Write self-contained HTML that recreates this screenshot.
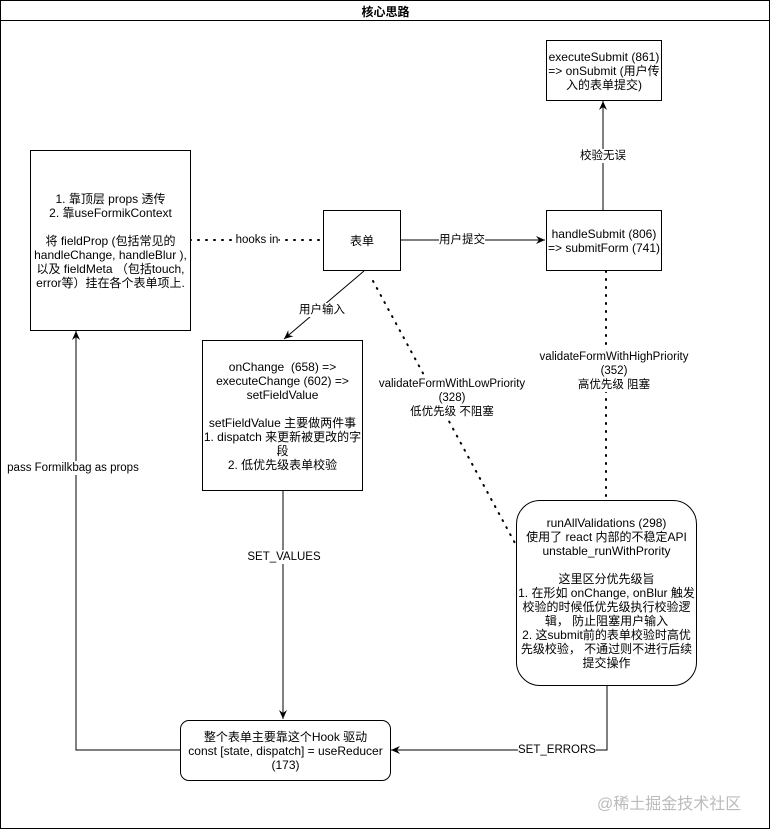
<!DOCTYPE html>
<html><head><meta charset="utf-8"><style>
body{margin:0;width:771px;height:831px;background:#fff;position:relative;overflow:hidden;font-family:"Liberation Sans","Noto Sans CJK SC",sans-serif;font-size:12px;color:#000}
.b{position:absolute;border:1px solid #000;background:#fff;display:flex;align-items:center;justify-content:center;text-align:center;line-height:14px;box-sizing:border-box}
.l{position:absolute;background:#fff;text-align:center;line-height:14px;white-space:nowrap;transform:translate(-50%,-50%);font-size:11.5px}
</style></head><body>
<svg width="771" height="831" style="position:absolute;left:0;top:0">
<defs><marker id="a" markerWidth="10" markerHeight="10" refX="9" refY="5" orient="auto" markerUnits="userSpaceOnUse"><path d="M0,1 L9,5 L0,9 L3,5 Z" fill="#000"/></marker></defs>
<rect x="0.5" y="0.5" width="769" height="828" fill="none" stroke="#000"/>
<line x1="0" y1="20.5" x2="770" y2="20.5" stroke="#000"/>
<g stroke="#000" fill="none" stroke-width="1">
<line x1="190" y1="240" x2="323" y2="240" stroke-dasharray="1,7" stroke-width="2" stroke-linecap="round"/>
<line x1="400" y1="240" x2="545" y2="240" marker-end="url(#a)"/>
<line x1="603" y1="210" x2="603" y2="101" marker-end="url(#a)"/>
<line x1="364" y1="271" x2="284" y2="339" marker-end="url(#a)"/>
<line x1="373" y1="281" x2="516" y2="545" stroke-dasharray="1,7" stroke-width="2" stroke-linecap="round"/>
<line x1="606" y1="271" x2="606" y2="500" stroke-dasharray="1,7" stroke-width="2" stroke-linecap="round"/>
<line x1="283" y1="490" x2="283" y2="719" marker-end="url(#a)"/>
<polyline points="607,685 607,750 391,750" marker-end="url(#a)"/>
<polyline points="180,750 76,750 76,331" marker-end="url(#a)"/>
</g></svg>
<div style="position:absolute;left:0;top:3px;width:771px;text-align:center;font-weight:bold;font-size:12px">核心思路</div>
<div class="b" style="left:30px;top:150px;width:161px;height:181px">1. 靠顶层 props 透传<br>2. 靠useFormikContext<br><br>将 fieldProp (包括常见的<br>handleChange, handleBlur ),<br>以及 fieldMeta （包括touch,<br>error等）挂在各个表单项上.</div>
<div class="b" style="left:323px;top:210px;width:78px;height:61px">表单</div>
<div class="b" style="left:546px;top:210px;width:116px;height:61px">handleSubmit (806)<br>=&gt; submitForm (741)</div>
<div class="b" style="left:546px;top:40px;width:116px;height:61px">executeSubmit (861)<br>=&gt; onSubmit (用户传入的表单提交)</div>
<div class="b" style="left:202px;top:340px;width:161px;height:151px">onChange&nbsp; (658) =&gt;<br>executeChange (602) =&gt;<br>setFieldValue<br><br>setFieldValue 主要做两件事<br>1. dispatch 来更新被更改的字段<br>2. 低优先级表单校验</div>
<div class="b" style="left:516px;top:500px;width:181px;height:186px;border-radius:24px;white-space:nowrap">runAllValidations (298)<br>使用了 react 内部的不稳定API<br>unstable_runWithPrority<br><br>这里区分优先级旨<br>1. 在形如 onChange, onBlur 触发<br>校验的时候低优先级执行校验逻<br>辑， 防止阻塞用户输入<br>2. 这submit前的表单校验时高优<br>先级校验， 不通过则不进行后续<br>提交操作</div>
<div class="b" style="left:180px;top:720px;width:211px;height:61px;border-radius:9px">整个表单主要靠这个Hook 驱动<br>const [state, dispatch] = useReducer<br>(173)</div>
<div class="l" style="left:257px;top:240px">hooks in</div>
<div class="l" style="left:462px;top:240px">用户提交</div>
<div class="l" style="left:603px;top:156px">校验无误</div>
<div class="l" style="left:322px;top:310px">用户输入</div>
<div class="l" style="left:452px;top:398px">validateFormWithLowPriority<br>(328)<br>低优先级 不阻塞</div>
<div class="l" style="left:614px;top:371px">validateFormWithHighPriority<br>(352)<br>高优先级 阻塞</div>
<div class="l" style="left:284px;top:557px">SET_VALUES</div>
<div class="l" style="left:557px;top:750px">SET_ERRORS</div>
<div class="l" style="left:73px;top:468px">pass Formilkbag as props</div>
<div style="position:absolute;left:597px;top:790px;font-size:16px;color:#bbb">@稀土掘金技术社区</div>
</body></html>
